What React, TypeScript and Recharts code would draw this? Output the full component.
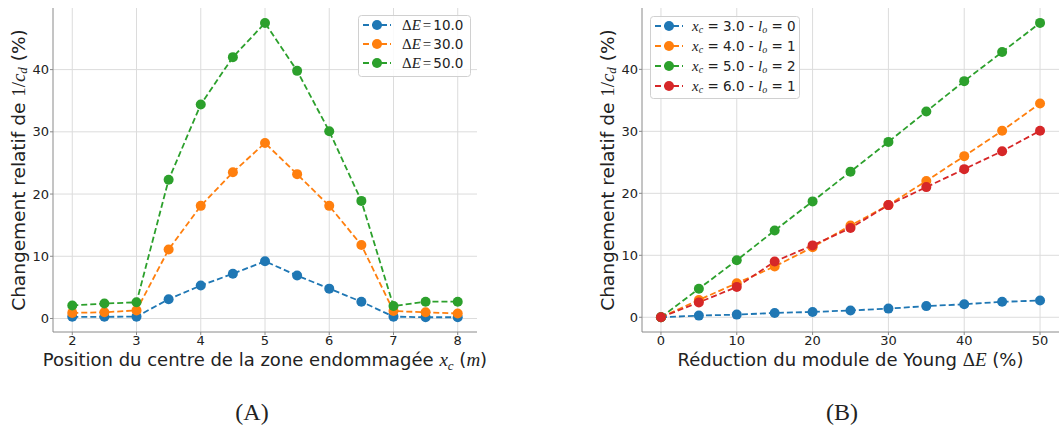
import React from 'react';
import { LineChart, Line, XAxis, YAxis, CartesianGrid, Legend, Label } from 'recharts';

// ---------- Data: chart A ----------
const positions = [2, 2.5, 3, 3.5, 4, 4.5, 5, 5.5, 6, 6.5, 7, 7.5, 8];
const dE10 = [0.27, 0.27, 0.3, 3.1, 5.3, 7.2, 9.2, 6.9, 4.8, 2.7, 0.3, 0.2, 0.2];
const dE30 = [0.9, 1.0, 1.3, 11.1, 18.1, 23.5, 28.2, 23.2, 18.1, 11.8, 1.2, 1.0, 0.8];
const dE50 = [2.1, 2.4, 2.6, 22.3, 34.4, 42.0, 47.5, 39.8, 30.1, 18.9, 2.0, 2.7, 2.7];
const ticksA = [2, 3, 4, 5, 6, 7, 8];

// ---------- Data: chart B ----------
const reductions = [0, 5, 10, 15, 20, 25, 30, 35, 40, 45, 50];
const xc3 = [0, 0.27, 0.43, 0.7, 0.86, 1.1, 1.4, 1.8, 2.1, 2.5, 2.7];
const xc4 = [0, 2.8, 5.5, 8.2, 11.3, 14.8, 18.1, 22.0, 26.0, 30.1, 34.5];
const xc5 = [0, 4.6, 9.2, 14.0, 18.7, 23.5, 28.3, 33.2, 38.1, 42.8, 47.5];
const xc6 = [0, 2.4, 4.9, 9.0, 11.6, 14.4, 18.1, 21.0, 23.9, 26.8, 30.1];
const ticksB = [0, 10, 20, 30, 40, 50];
const ticksY = [0, 10, 20, 30, 40];

const legendA = [
  { key: 'e10', value: '10.0', color: '#1f77b4' },
  { key: 'e30', value: '30.0', color: '#ff7f0e' },
  { key: 'e50', value: '50.0', color: '#2ca02c' },
];
const legendB = [
  { key: 'x3', xc: '3.0', lo: '0', color: '#1f77b4' },
  { key: 'x4', xc: '4.0', lo: '1', color: '#ff7f0e' },
  { key: 'x5', xc: '5.0', lo: '2', color: '#2ca02c' },
  { key: 'x6', xc: '6.0', lo: '1', color: '#d62728' },
];

const dataA = positions.map((p, i) => ({ x: p, e10: dE10[i], e30: dE30[i], e50: dE50[i] }));
const dataB = reductions.map((r, i) => ({ x: r, x3: xc3[i], x4: xc4[i], x5: xc5[i], x6: xc6[i] }));

const SANS = 'DejaVu Sans, sans-serif';
const SERIF = 'Liberation Serif, DejaVu Serif, serif';
const TXT = '#222222';
const GRID = '#dcdcdc';
const SPINE = '#8a8a8a';
const DASH = '6 3';

const tickStyle = { fontFamily: SANS, fontSize: 13, fill: TXT };

const YLabel = (props: any) => {
  const vb = props.viewBox || {};
  const x = (vb.x ?? 0) + (vb.width ?? 0) - 35;
  const y = (vb.y ?? 0) + (vb.height ?? 0) / 2;
  return (
    <text x={x} y={y} transform={`rotate(-90, ${x}, ${y})`} textAnchor="middle" dominantBaseline="central"
      fontFamily={SANS} fontSize={18.5} fill={TXT}>
      <tspan>Changement relatif de </tspan>
      <tspan fontFamily={SERIF} fontSize={19}>1/</tspan>
      <tspan fontFamily={SERIF} fontStyle="italic" fontSize={19}>c</tspan>
      <tspan fontFamily={SERIF} fontStyle="italic" fontSize={13} dy={4}>d</tspan>
      <tspan dy={-4}> (%)</tspan>
    </text>
  );
};

const XLabelA = (props: any) => {
  const vb = props.viewBox || {};
  const x = (vb.x ?? 0) + (vb.width ?? 0) / 2;
  const y = (vb.y ?? 0) + 34;
  return (
    <text x={x} y={y} textAnchor="middle" fontFamily={SANS} fontSize={18} fill={TXT}>
      <tspan>Position du centre de la zone endommagée </tspan>
      <tspan fontFamily={SERIF} fontStyle="italic" fontSize={19}>x</tspan>
      <tspan fontFamily={SERIF} fontStyle="italic" fontSize={13} dy={4}>c</tspan>
      <tspan dy={-4}> (</tspan>
      <tspan fontFamily={SERIF} fontStyle="italic" fontSize={19}>m</tspan>
      <tspan>)</tspan>
    </text>
  );
};

const XLabelB = (props: any) => {
  const vb = props.viewBox || {};
  const x = (vb.x ?? 0) + (vb.width ?? 0) / 2;
  const y = (vb.y ?? 0) + 34;
  return (
    <text x={x} y={y} textAnchor="middle" fontFamily={SANS} fontSize={18} fill={TXT}>
      <tspan>Réduction du module de Young </tspan>
      <tspan fontFamily={SERIF} fontSize={19}>Δ</tspan>
      <tspan fontFamily={SERIF} fontStyle="italic" fontSize={19}>E</tspan>
      <tspan> (%)</tspan>
    </text>
  );
};

const Sample = ({ color, y }: { color: string; y: number }) => (
  <g>
    <line x1={5} x2={33} y1={y} y2={y} stroke={color} strokeWidth={1.8} strokeDasharray="6 3" />
    <circle cx={19} cy={y} r={5} fill={color} />
  </g>
);

const LegendA = () => (
  <svg width={113} height={62} style={{ display: 'block' }}>
    <rect x={0.5} y={0.5} width={112} height={61} rx={3} fill="rgba(255,255,255,0.85)" stroke="#d0d0d0" />
    {legendA.map((l, i) => {
      const y = 10 + i * 19;
      return (
        <g key={l.key}>
          <Sample color={l.color} y={y} />
          <text x={44} y={y} dominantBaseline="central" fontFamily={SANS} fontSize={13.5} fill={TXT}>
            <tspan fontFamily={SERIF} fontSize={15}>Δ</tspan>
            <tspan fontFamily={SERIF} fontStyle="italic" fontSize={15}>E</tspan>
            <tspan fontFamily={SERIF} fontSize={15} dx={2}>=</tspan>
            <tspan dx={2}>{l.value}</tspan>
          </text>
        </g>
      );
    })}
  </svg>
);

const LegendB = () => (
  <svg width={150} height={83} style={{ display: 'block' }}>
    <rect x={0.5} y={0.5} width={149} height={82} rx={3} fill="rgba(255,255,255,0.85)" stroke="#d0d0d0" />
    {legendB.map((l, i) => {
      const y = 10 + i * 20;
      return (
        <g key={l.key}>
          <Sample color={l.color} y={y} />
          <text x={42} y={y} dominantBaseline="central" fontFamily={SANS} fontSize={13.5} fill={TXT}>
            <tspan fontFamily={SERIF} fontStyle="italic" fontSize={15}>x</tspan>
            <tspan fontFamily={SERIF} fontStyle="italic" fontSize={10} dy={3}>c</tspan>
            <tspan dy={-3}>{` = ${l.xc} - `}</tspan>
            <tspan fontFamily={SERIF} fontStyle="italic" fontSize={15}>l</tspan>
            <tspan fontFamily={SERIF} fontStyle="italic" fontSize={10} dy={3}>o</tspan>
            <tspan dy={-3}>{` = ${l.lo}`}</tspan>
          </text>
        </g>
      );
    })}
  </svg>
);

const frameAxes = (
  xId: string, yId: string
) => [
  <XAxis key="xt" xAxisId={xId} orientation="top" height={0} tick={false} tickLine={false}
    axisLine={{ stroke: SPINE, strokeWidth: 1 }} type="number" domain={[0, 1]} />,
  <YAxis key="yr" yAxisId={yId} orientation="right" width={0} tick={false} tickLine={false}
    axisLine={{ stroke: SPINE, strokeWidth: 1 }} type="number" domain={[0, 1]} />,
];

const dotOf = (c: string) => ({ r: 5, fill: c, stroke: c, strokeWidth: 0 });

export default function App() {
  return (
    <div style={{ position: 'absolute', left: 0, top: 0, width: 1060, height: 426, background: '#fff', overflow: 'hidden' }}>
      <div style={{ position: 'absolute', left: 0, top: 0 }}>
        <LineChart width={530} height={426} data={dataA} margin={{ top: 8, right: 53, bottom: 64, left: 0 }}>
          <CartesianGrid stroke={GRID} strokeWidth={1} verticalValues={ticksA} horizontalValues={ticksY} />
          <XAxis dataKey="x" type="number" domain={[1.7, 8.3]} ticks={ticksA} allowDataOverflow
            height={30} tickSize={3} tickMargin={1} tick={tickStyle}
            tickLine={{ stroke: SPINE }} axisLine={{ stroke: SPINE }}>
            <Label content={XLabelA} />
          </XAxis>
          <YAxis type="number" domain={[-2.17, 49.9]} ticks={ticksY} allowDataOverflow
            width={53} tickSize={3} tickMargin={1} tick={tickStyle}
            tickLine={{ stroke: SPINE }} axisLine={{ stroke: SPINE }}>
            <Label content={YLabel} />
          </YAxis>
          {frameAxes('topA', 'rightA')}
          {legendA.map((l) => (
            <Line key={l.key} dataKey={l.key} stroke={l.color} strokeWidth={1.8} strokeDasharray={DASH}
              dot={dotOf(l.color)} activeDot={false} isAnimationActive={false} />
          ))}
          <Legend layout="horizontal" verticalAlign="middle" align="center" content={LegendA}
            wrapperStyle={{ left: 358, top: 15, width: 113, height: 62 }} />
        </LineChart>
      </div>
      <div style={{ position: 'absolute', left: 530, top: 0 }}>
        <LineChart width={530} height={426} data={dataB} margin={{ top: 8, right: 1, bottom: 64, left: 0 }}>
          <CartesianGrid stroke={GRID} strokeWidth={1} verticalValues={ticksB} horizontalValues={ticksY} />
          <XAxis dataKey="x" type="number" domain={[-2.5, 52.5]} ticks={ticksB} allowDataOverflow
            height={30} tickSize={3} tickMargin={1} tick={tickStyle}
            tickLine={{ stroke: SPINE }} axisLine={{ stroke: SPINE }}>
            <Label content={XLabelB} />
          </XAxis>
          <YAxis type="number" domain={[-2.375, 49.9]} ticks={ticksY} allowDataOverflow
            width={112} tickSize={3} tickMargin={1} tick={tickStyle}
            tickLine={{ stroke: SPINE }} axisLine={{ stroke: SPINE }}>
            <Label content={YLabel} />
          </YAxis>
          {frameAxes('topB', 'rightB')}
          {legendB.map((l) => (
            <Line key={l.key} dataKey={l.key} stroke={l.color} strokeWidth={1.8} strokeDasharray={DASH}
              dot={dotOf(l.color)} activeDot={false} isAnimationActive={false} />
          ))}
          <Legend layout="horizontal" verticalAlign="middle" align="center" content={LegendB}
            wrapperStyle={{ left: 120, top: 16, width: 150, height: 83 }} />
        </LineChart>
      </div>
      <svg width={1060} height={426} style={{ position: 'absolute', left: 0, top: 0, pointerEvents: 'none' }}>
        <text x={252} y={412} textAnchor="middle" dominantBaseline="central" fontFamily={SERIF} fontSize={24} fill={TXT}>(A)</text>
        <text x={842} y={412} textAnchor="middle" dominantBaseline="central" fontFamily={SERIF} fontSize={24} fill={TXT}>(B)</text>
      </svg>
    </div>
  );
}
